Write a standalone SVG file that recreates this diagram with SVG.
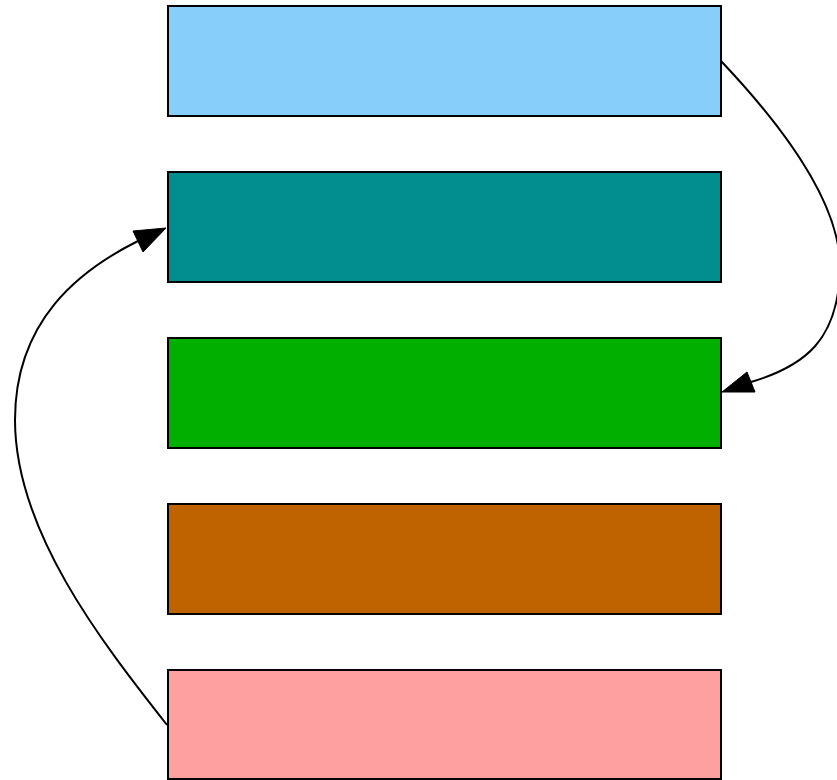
<svg xmlns="http://www.w3.org/2000/svg" width="837" height="780" viewBox="0 0 837 780">
<style>
rect.n{stroke:#000;stroke-width:2}
.e{fill:none;stroke:#000;stroke-width:2}
.h{fill:#000;stroke:#000;stroke-width:1}
</style>
<rect width="837" height="780" fill="#fff"/>
<g id="n1"><rect class="n" x="168" y="6" width="553" height="110" fill="#87cefa"/></g>
<g id="n2"><rect class="n" x="168" y="172" width="553" height="110" fill="#028e8e"/></g>
<g id="n3"><rect class="n" x="168" y="338" width="553" height="110" fill="#00af00"/></g>
<g id="n4"><rect class="n" x="168" y="504" width="553" height="110" fill="#bf6200"/></g>
<g id="n5"><rect class="n" x="168" y="670" width="553" height="109" fill="#ffa0a0"/></g>
<g id="edges">
<path class="e" d="M721,61 C775,118 842,200 840,270 C838,340 805,366 751,382"/>
<path class="h" d="M747,372 L722,392 L755,392 z"/>
<path class="e" d="M167,725 C100,640 15,530 15,420 C15,320 80,270 138,241"/>
<path class="h" d="M133,231 L166,228 L143,252 z"/>
</g>
</svg>
